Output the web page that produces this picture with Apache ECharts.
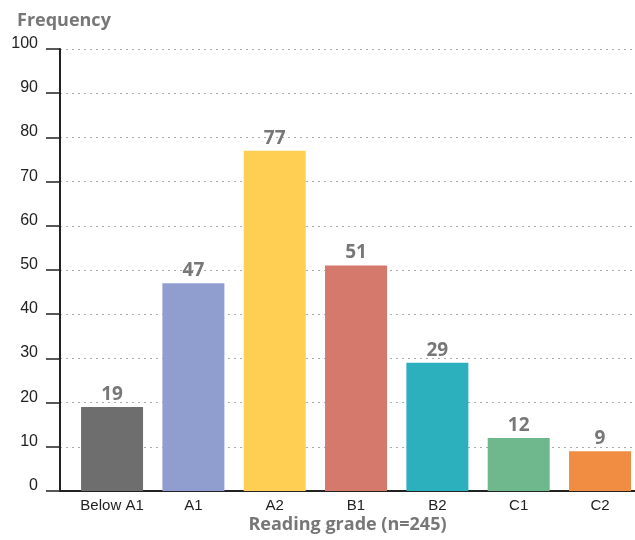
<!DOCTYPE html>
<html>
<head>
<meta charset="utf-8">
<script src="https://cdn.jsdelivr.net/npm/echarts@6/dist/echarts.min.js"></script>
<style>html,body{margin:0;padding:0;background:#fff}#c{width:635px;height:540px}</style>
</head>
<body>
<div id="c"></div>
<script>
const categories = ['Below A1', 'A1', 'A2', 'B1', 'B2', 'C1', 'C2'];
const values = [19, 47, 77, 51, 29, 12, 9];
const colors = ['#6e6e6e', '#8f9dcf', '#fecf52', '#d6796d', '#2db0be', '#6fb78c', '#f18d43'];
const categoryIndex = categories.map((c, i) => i);

const chart = echarts.init(document.getElementById('c'), null, {renderer: 'canvas'});
chart.setOption({
  animation: false,
  title: {
    text: 'Frequency', left: 12, top: 7,
    textStyle: {fontFamily: 'Open Sans', fontWeight: 'bold', fontSize: 18, color: '#777'}
  },
  grid: {left: 60, right: 0, top: 49, bottom: 49, containLabel: false, outerBoundsMode: 'none'},
  xAxis: {
    type: 'value', min: -0.64, max: 6.43,
    splitLine: {show: false},
    axisTick: {show: false},
    axisLine: {show: true, onZero: false, lineStyle: {color: '#222', width: 2}},
    axisLabel: {
      customValues: categoryIndex,
      formatter: v => categories[v] || '',
      color: '#222', fontFamily: 'Liberation Sans', fontSize: 15, margin: 7
    },
    name: 'Reading grade (n=245)', nameLocation: 'middle', nameGap: 25, nameMoveOverlap: false,
    nameTextStyle: {fontFamily: 'Open Sans', fontWeight: 'bold', fontSize: 18, color: '#777'}
  },
  yAxis: {
    type: 'value', min: 0, max: 100, interval: 10,
    axisLine: {show: true, onZero: false, lineStyle: {color: '#222', width: 2}},
    axisTick: {show: true, length: 14, lineStyle: {color: '#222', width: 1.5}},
    axisLabel: {color: '#222', fontFamily: 'Liberation Sans', fontSize: 16, margin: 22,
      verticalAlign: 'bottom', lineHeight: 11},
    splitLine: {show: true, lineStyle: {type: [2, 4], color: '#aaa', width: 1}}
  },
  series: [{
    type: 'bar',
    barWidth: 62,
    data: values.map((v, i) => ({value: [i, v], itemStyle: {color: colors[i]}})),
    label: {show: true, position: 'top', distance: 3,
      fontFamily: 'Open Sans', fontWeight: 'bold', fontSize: 19, color: '#777'}
  }]
});
</script>
</body>
</html>
